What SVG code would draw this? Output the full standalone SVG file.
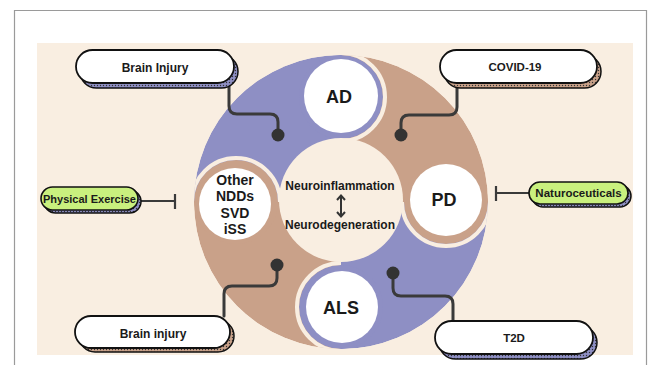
<svg xmlns="http://www.w3.org/2000/svg" width="655" height="365" viewBox="0 0 655 365">
<style>
.t{font-family:"Liberation Sans",Arial,sans-serif;font-weight:bold;fill:#1a1a1a;text-anchor:middle}
.pill{fill:#fff;stroke:#111;stroke-width:1.8}
.gpill{fill:#c9f07e;stroke:#111;stroke-width:1.6}
.sh{stroke:#111;stroke-width:1.5}
.con{fill:none;stroke:#3a3a3a;stroke-width:3;stroke-linecap:round}
.inh{fill:none;stroke:#3a3a3a;stroke-width:2.2}
.dot{fill:#333}
.pu{fill:#8e8fc4}
.br{fill:#c9a189}
.bg{fill:#f9eee1}
.wh{fill:#fff}
.gap{fill:none;stroke:#f9eee1;stroke-width:4}
</style>
<defs>
<pattern id="pp" width="3" height="3" patternUnits="userSpaceOnUse"><rect width="3" height="3" fill="#8e8fc4"/><circle cx="1.5" cy="1.5" r="0.7" fill="#333"/></pattern>
<pattern id="pb" width="3" height="3" patternUnits="userSpaceOnUse"><rect width="3" height="3" fill="#c9a189"/><circle cx="1.5" cy="1.5" r="0.7" fill="#333"/></pattern>
<clipPath id="ringclip"><circle cx="341" cy="202" r="147"/></clipPath>
</defs>
<rect x="0" y="0" width="655" height="365" fill="#fff"/>
<path d="M14.5,365 V10.5 H646.5 V365" fill="none" stroke="#9a9a9a" stroke-width="1.2"/>
<rect x="37" y="43" width="596" height="312" class="bg"/>

<g id="ring" clip-path="url(#ringclip)">
  <path class="pu" d="M341,202 L194,202 A147,147 0 0 1 341,55 Z"/>
  <path class="br" d="M341,202 L341,55 A147,147 0 0 1 488,202 Z"/>
  <path class="pu" d="M341,202 L488,202 A147,147 0 0 1 341,349 Z"/>
  <path class="br" d="M341,202 L341,349 A147,147 0 0 1 194,202 Z"/>
  <!-- AD head: purple, gap on right -->
  <circle class="pu" cx="341" cy="97" r="42"/>
  <path class="gap" d="M341,53 A44,44 0 0 1 341,141"/>
  <!-- PD head: brown, gap at bottom -->
  <circle class="br" cx="446" cy="202" r="42"/>
  <path class="gap" d="M490,202 A44,44 0 0 1 402,202"/>
  <!-- ALS head: purple, gap on left -->
  <circle class="pu" cx="341" cy="307" r="42"/>
  <path class="gap" d="M341,351 A44,44 0 0 1 341,263"/>
  <!-- Other head: brown, gap on top -->
  <circle class="br" cx="236" cy="202" r="42"/>
  <path class="gap" d="M192,202 A44,44 0 0 1 280,202"/>
</g>

<g id="center">
  <circle class="bg" cx="341" cy="200" r="62"/>
  <text class="t" x="340" y="190" font-size="12">Neuroinflammation</text>
  <path d="M341,197 V215 M337,200 L341,195.5 L345,200 M337,212 L341,216.5 L345,212" fill="none" stroke="#333" stroke-width="2"/>
  <text class="t" x="340" y="229" font-size="12">Neurodegeneration</text>
</g>

<g id="AD">
  <circle class="wh" cx="341" cy="96" r="37"/>
  <text class="t" x="339" y="103" font-size="18">AD</text>
</g>
<g id="PD">
  <circle class="wh" cx="446" cy="200" r="36"/>
  <text class="t" x="444" y="206" font-size="18">PD</text>
</g>
<g id="ALS">
  <circle class="wh" cx="342" cy="307" r="36"/>
  <text class="t" x="341" y="314" font-size="18">ALS</text>
</g>
<g id="Other">
  <circle class="wh" cx="235" cy="204" r="36"/>
  <text class="t" x="235" y="185" font-size="14">Other</text>
  <text class="t" x="235" y="201" font-size="14">NDDs</text>
  <text class="t" x="235" y="218" font-size="14">SVD</text>
  <text class="t" x="235" y="234" font-size="14">iSS</text>
</g>

<g id="connectors">
  <path class="con" d="M229,84 V106 Q229,114 237,114 H270 Q278,114 278,122 V135"/>
  <path class="con" d="M457,84 V107 Q457,115 449,115 H409 Q401,115 401,123 V135"/>
  <path class="con" d="M224,316 V294 Q224,286 232,286 H269 Q277,286 277,278 V265"/>
  <path class="con" d="M453,321 V304 Q453,296 445,296 H401 Q393,296 393,288 V273"/>
  <circle class="dot" cx="278" cy="135" r="6.5"/>
  <circle class="dot" cx="401" cy="135" r="6.5"/>
  <circle class="dot" cx="277" cy="265" r="6.5"/>
  <circle class="dot" cx="393" cy="273" r="6.5"/>
  <path class="inh" d="M139,201 H175 M175,194 V209"/>
  <path class="inh" d="M529,193 H496 M496,186 V201"/>
</g>

<g id="brain-injury-top">
  <rect class="sh" x="80" y="55" width="158" height="33" rx="16.5" fill="url(#pp)"/>
  <rect class="pill" x="76" y="50" width="158" height="33" rx="16.5"/>
  <text class="t" x="155" y="72" font-size="12">Brain Injury</text>
</g>
<g id="covid">
  <rect class="sh" x="444" y="55" width="157" height="33" rx="16.5" fill="url(#pb)"/>
  <rect class="pill" x="440" y="50" width="157" height="33" rx="16.5"/>
  <text class="t" x="515" y="71" font-size="11.5">COVID-19</text>
</g>
<g id="physical-exercise">
  <rect class="sh" x="44" y="190" width="97" height="23" rx="11.5" fill="url(#pp)"/>
  <rect class="gpill" x="41" y="187" width="97" height="23" rx="11.5"/>
  <text class="t" x="89.5" y="203" font-size="11">Physical Exercise</text>
</g>
<g id="naturoceuticals">
  <rect class="sh" x="532" y="185" width="99" height="22" rx="11" fill="url(#pp)"/>
  <rect class="gpill" x="529" y="182" width="99" height="22" rx="11"/>
  <text class="t" x="578.5" y="197" font-size="11.5">Naturoceuticals</text>
</g>
<g id="brain-injury-bottom">
  <rect class="sh" x="79" y="320" width="155" height="32" rx="16" fill="url(#pb)"/>
  <rect class="pill" x="75" y="316" width="155" height="32" rx="16"/>
  <text class="t" x="153" y="338" font-size="12">Brain injury</text>
</g>
<g id="t2d">
  <rect class="sh" x="439" y="326" width="158" height="33" rx="16.5" fill="url(#pp)"/>
  <rect class="pill" x="435" y="321" width="158" height="33" rx="16.5"/>
  <text class="t" x="514" y="342" font-size="11.5">T2D</text>
</g>
</svg>
